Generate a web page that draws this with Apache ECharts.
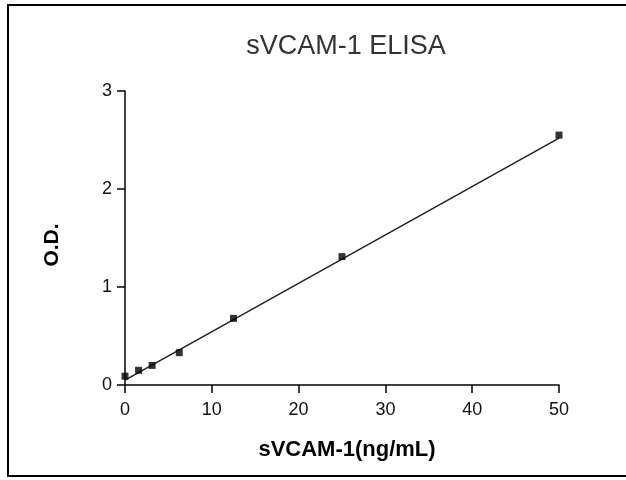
<!DOCTYPE html>
<html><head><meta charset="utf-8">
<script src="https://cdn.jsdelivr.net/npm/echarts@6/dist/echarts.min.js"></script>
<style>html,body{margin:0;padding:0;background:#fff}#c{width:626px;height:480px}</style>
</head><body><div id="c"></div>
<script>
const concentrations = [0, 1.5625, 3.125, 6.25, 12.5, 25, 50];
const odValues = [0.09, 0.15, 0.20, 0.33, 0.68, 1.31, 2.55];
const fitX = [0, 50];
const fitY = [0.05, 2.52];
const xTicks = [0, 10, 20, 30, 40, 50];
const yTicks = [0, 1, 2, 3];

const chart = echarts.init(document.getElementById('c'));
const tickFont = {fontFamily: '"Liberation Sans Narrow", "Liberation Sans", Arial, sans-serif', fontSize: 18, color: '#111'};
chart.setOption({
  animation: false,
  backgroundColor: '#fff',
  title: {text: 'sVCAM-1 ELISA', left: 341, top: 28, textAlign: 'center',
    textStyle: {fontFamily: '"Liberation Sans", Arial, sans-serif', fontSize: 27, fontWeight: 'normal', color: '#333'}},
  grid: {left: 125, right: 67, top: 91, bottom: 95},
  xAxis: {type: 'value', min: 0, max: 50, interval: 10,
    name: 'sVCAM-1(ng/mL)', nameLocation: 'middle', nameGap: 54,
    nameTextStyle: {fontFamily: '"Liberation Sans", Arial, sans-serif', fontSize: 22, fontWeight: 'bold', color: '#000', padding: [0, 0, 0, 10]},
    axisLine: {lineStyle: {color: '#000', width: 1.5}},
    axisTick: {inside: false, length: 8, lineStyle: {color: '#000', width: 1.5}},
    axisLabel: Object.assign({margin: 16}, tickFont),
    splitLine: {show: false}},
  yAxis: {type: 'value', min: 0, max: 3, interval: 1,
    name: 'O.D.', nameLocation: 'middle', nameGap: 62,
    nameTextStyle: {fontFamily: '"Liberation Sans", Arial, sans-serif', fontSize: 21, fontWeight: 'bold', color: '#000', padding: [0, 0, 0, -14]},
    axisLine: {show: true, lineStyle: {color: '#000', width: 1.5}},
    axisTick: {show: true, inside: false, length: 8, lineStyle: {color: '#000', width: 1.5}},
    axisLabel: Object.assign({margin: 13}, tickFont),
    splitLine: {show: false}},
  graphic: [{type: 'rect', shape: {x: 8, y: 5, width: 640, height: 471},
    style: {fill: 'none', stroke: '#000', lineWidth: 2}, silent: true, z: 100}],
  series: [
    {type: 'line', data: fitX.map((x, i) => [x, fitY[i]]), showSymbol: false, symbol: 'none',
      lineStyle: {color: '#222', width: 1.5}, z: 2},
    {type: 'scatter', data: concentrations.map((x, i) => [x, odValues[i]]), symbol: 'rect', symbolSize: 7,
      itemStyle: {color: '#000'}, z: 3}
  ]
});
</script></body></html>
